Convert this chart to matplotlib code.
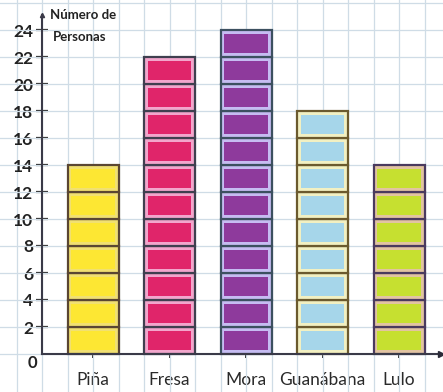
import numpy as np
import matplotlib
matplotlib.use("Agg")
import matplotlib.pyplot as plt
from matplotlib.ticker import MultipleLocator, FixedLocator

plt.rcParams['font.family'] = ['Lato', 'DejaVu Sans']

# fruit preferences, people per fruit
frutas = ['Piña', 'Fresa', 'Mora', 'Guanábana', 'Lulo']
personas = [14, 22, 24, 18, 14]
y_ticks = list(range(2, 25, 2))

fill_colors = ['#fde733', '#e0256a', '#8e3a9c', '#a6d6ea', '#c6e030']
inner_colors = ['#f1e072', '#f2a6cc', '#c6bcf2', '#f2f0c2', '#e2c4a2']
edge_colors = ['#5a4632', '#3f3f4f', '#3c5060', '#6b5a2e', '#4a3a5e']

fig = plt.figure(figsize=(4.43, 3.92), dpi=100)
ax = fig.add_axes([0, 0, 1, 1])

x = np.arange(len(frutas))
bar_w = 2 / 3
step = 2  # each block is worth 2 people
dx, dy = 0.1, 0.55  # inset of the inner coloured block

for i, val in enumerate(personas):
    for b in range(0, val, step):
        ax.bar(x[i], step, bottom=b, width=bar_w, color=inner_colors[i],
               edgecolor=edge_colors[i], linewidth=1.6, zorder=3)
        ax.bar(x[i], step - dy, bottom=b + dy / 2, width=bar_w - dx,
               color=fill_colors[i], edgecolor='none', zorder=4)

x_axis = -2 / 3
ax.set_xlim(-93 / 76.5, 350 / 76.5)
ax.set_ylim(-38 / 13.5, 354 / 13.5)

# square grid covering the sheet above the x axis
ax.xaxis.set_minor_locator(MultipleLocator(1 / 3))
ax.yaxis.set_minor_locator(FixedLocator(range(0, 28, 2)))
ax.xaxis.remove_overlapping_locs = False
ax.yaxis.remove_overlapping_locs = False
ax.grid(which='minor', color='#cfdce6', linewidth=0.9, zorder=0)
ax.grid(which='major', visible=False)
ax.set_axisbelow(True)

for s in ['top', 'right']:
    ax.spines[s].set_visible(False)
ax.spines['left'].set_position(('data', x_axis))
ax.spines['bottom'].set_position(('data', 0))
ax.spines['left'].set_bounds(0, 25.1)
ax.spines['bottom'].set_bounds(x_axis, ax.get_xlim()[1])
for s in ['left', 'bottom']:
    ax.spines[s].set_color('#3a3a48')
    ax.spines[s].set_linewidth(1.5)
    ax.spines[s].set_zorder(5)

ax.plot(x_axis, 25.1, marker='^', markersize=3, color='#3a3a48',
        clip_on=False, zorder=6)
ax.plot(ax.get_xlim()[1] - 0.03, 0, marker='>', markersize=5,
        color='#2a2a38', clip_on=False, zorder=6)

ax.yaxis.set_major_locator(FixedLocator(y_ticks))
ax.set_yticklabels([str(v) for v in y_ticks])
ax.tick_params(axis='y', which='major', direction='inout', length=9,
               width=1.6, color='#2a2a2a', pad=2, labelsize=12.5,
               labelcolor='#222222')
for lbl in ax.get_yticklabels():
    lbl.set_fontweight('bold')
ax.tick_params(axis='y', which='minor', length=0)

ax.set_xticks(x)
ax.set_xticklabels(frutas)
ax.tick_params(axis='x', which='major', direction='out', length=3,
               width=1.4, color='#2a2a2a', pad=10, labelsize=12.5,
               labelcolor='#2a2a2a')
ax.tick_params(axis='x', which='minor', length=0)

ax.text(x_axis - 0.12, -0.7, '0', ha='center', va='center',
        fontsize=12, fontweight='bold', color='#222222')
ax.text(x_axis + 0.1, 25.1, 'Número de', ha='left', va='center',
        fontsize=9.5, fontweight='bold', color='#222222')
ax.text(x_axis + 0.14, 23.5, 'Personas', ha='left', va='center',
        fontsize=9.5, fontweight='bold', color='#222222')

fig.savefig('out.png', dpi=100)
